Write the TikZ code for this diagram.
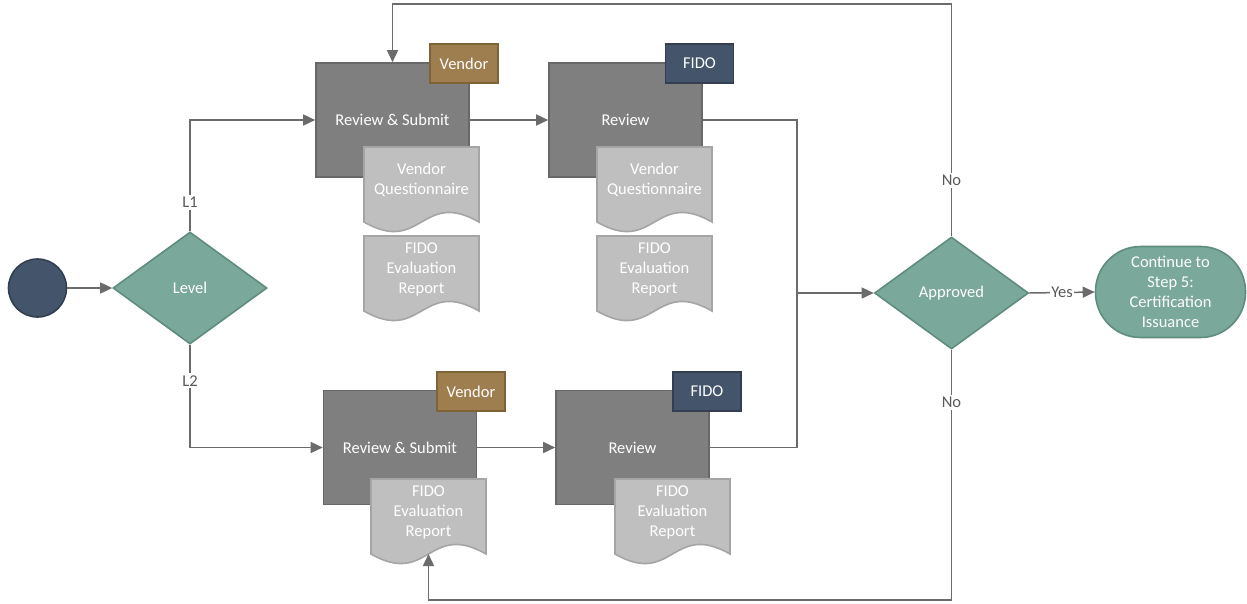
\documentclass[tikz,border=0pt]{standalone}
\usepackage{fontspec}
\setmainfont{Carlito}
\usetikzlibrary{arrows.meta,shapes.geometric}
\definecolor{procfill}{HTML}{7F7F7F}
\definecolor{procline}{HTML}{686868}
\definecolor{docfill}{HTML}{BFBFBF}
\definecolor{docline}{HTML}{A5A5A5}
\definecolor{vendfill}{HTML}{9E7E4F}
\definecolor{vendline}{HTML}{7D6336}
\definecolor{fidofill}{HTML}{44546A}
\definecolor{fidoline}{HTML}{333F50}
\definecolor{decfill}{HTML}{7AA89B}
\definecolor{decline}{HTML}{5F8C7F}
\definecolor{conn}{HTML}{6B6B6B}
\definecolor{lbl}{HTML}{595959}
\tikzset{
  base/.style={font=\fontsize{16.5}{20}\selectfont, text=white, align=center, inner sep=0pt},
  proc/.style={base, draw=procline, fill=procfill, line width=1.6pt, minimum width=153pt, minimum height=114pt},
  vtag/.style={base, draw=vendline, fill=vendfill, line width=1.6pt, minimum width=68pt, minimum height=39pt},
  ftag/.style={base, draw=fidoline, fill=fidofill, line width=1.6pt, minimum width=68pt, minimum height=39pt},
  docshape/.style={draw=docline, fill=docfill, line width=1.6pt},
  doctext/.style={base},
  dec/.style={base, diamond, aspect=1.375, draw=decline, fill=decfill, line width=1.6pt, minimum width=154pt, minimum height=112pt},
  term/.style={base, draw=decline, fill=decfill, line width=1.6pt, minimum width=150pt, minimum height=91pt, rounded corners=45pt},
  startc/.style={circle, draw=fidoline, fill=fidofill, line width=1.6pt, minimum size=58pt, inner sep=0pt},
  wire/.style={draw=conn, line width=1.5pt},
  arr/.style={wire, -{Triangle[length=12pt,width=11pt]}},
  lab/.style={font=\fontsize{16.5}{18}\selectfont, text=lbl, fill=white, inner sep=2pt},
}
\newcommand\docnode[4]{%
  \draw[docshape] (#2,#3) -- (#2+115,#3) -- (#2+115,#3+75)
    .. controls (#2+57.5,#3+42) and (#2+57.5,#3+108) .. (#2,#3+75) -- cycle;
  \node[doctext] (#1) at (#2+57.5,#3+33) {#4};
  \coordinate (#1-w) at (#2+57.5,#3+75);
}
\begin{document}
\begin{tikzpicture}[x=1pt,y=-1pt]
\useasboundingbox (0,0) rectangle (1247,603);
% nodes
\node[startc] (start) at (37.5,288) {};
\node[dec] (level) at (190,288) {Level};
\node[proc] (rs1) at (392.5,120) {Review \& Submit};
\node[vtag] (vt1) at (464,63.5) {Vendor};
\node[proc] (rv1) at (625.5,120) {Review};
\node[ftag] (ft1) at (699.5,63.5) {FIDO};
\node[proc] (rs2) at (400,447.5) {Review \& Submit};
\node[vtag] (vt2) at (471,391.5) {Vendor};
\node[proc] (rv2) at (632.5,447.5) {Review};
\node[ftag] (ft2) at (707,391.5) {FIDO};
\docnode{d1}{364}{147}{Vendor\\Questionnaire}
\docnode{d2}{364}{236}{FIDO\\Evaluation\\Report}
\docnode{d3}{597}{147}{Vendor\\Questionnaire}
\docnode{d4}{597}{236}{FIDO\\Evaluation\\Report}
\docnode{d5}{371}{479}{FIDO\\Evaluation\\Report}
\docnode{d6}{615}{479}{FIDO\\Evaluation\\Report}
\node[dec] (ap) at (951.5,293) {Approved};
\node[term] (end) at (1170.5,292) {Continue to\\Step 5:\\Certification\\Issuance};
\coordinate (topy) at (0,4);
\coordinate (boty) at (0,600);
\coordinate (mx) at (797,293);
% connectors
\draw[arr] (start) -- (level.west);
\draw[arr] (level.north) |- node[lab, pos=0.13] {L1} (rs1.west);
\draw[arr] (level.south) |- node[lab, pos=0.175] {L2} (rs2.west);
\draw[arr] (rs1.east) -- (rv1.west);
\draw[arr] (rs2.east) -- (rv2.west);
\draw[wire] (rv1.east) -| (mx);
\draw[wire] (rv2.east) -| (mx);
\draw[arr] (mx) -- (ap.west);
\draw[arr] (ap.north) -- node[lab, pos=0.24] {No} (ap.north |- topy) -| (rs1.north);
\draw[arr] (ap.south) -- node[lab, pos=0.21] {No} (ap.south |- boty) -| (d5-w);
\draw[arr] (ap.east) -- node[lab, inner sep=1pt] {Yes} (end.west);
\end{tikzpicture}
\end{document}
